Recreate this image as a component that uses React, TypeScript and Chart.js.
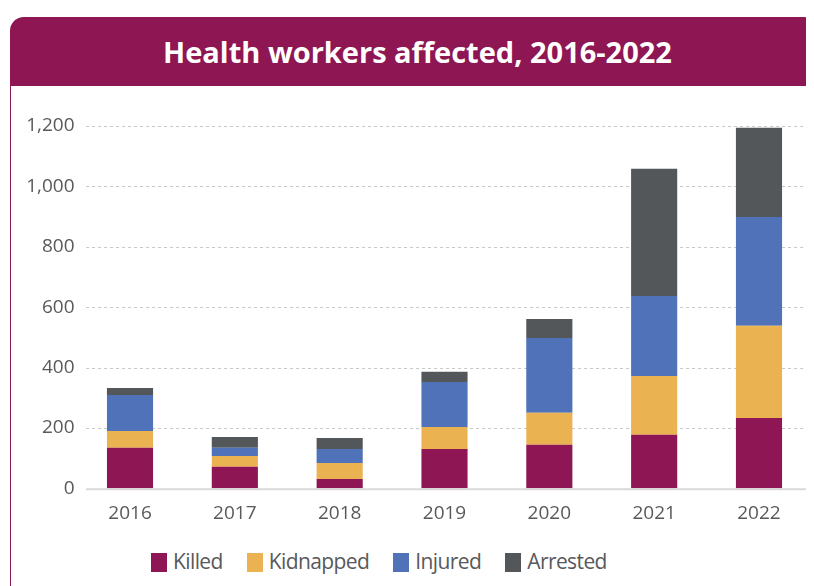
import React, { useEffect, useRef } from "react";
import { Chart, registerables } from "chart.js";

Chart.register(...registerables);

const titleText = "Health workers affected, 2016-2022";
const years = ["2016", "2017", "2018", "2019", "2020", "2021", "2022"];
const killed = [134, 71, 31, 130, 144, 177, 233];
const kidnapped = [56, 36, 53, 73, 106, 195, 305];
const injured = [119, 27, 46, 149, 248, 265, 361];
const arrested = [23, 36, 37, 34, 63, 421, 295];
const seriesNames = ["Killed", "Kidnapped", "Injured", "Arrested"];
const seriesColors = ["#8E1654", "#EAB251", "#4F72B8", "#53575A"];
const yMin = 0;
const yMax = 1200;
const yStep = 200;

const HEADER = "#8D1653";
const TEXT = "#58595B";
const FONT = "'Open Sans', sans-serif";

const gridPlugin = {
  id: "dashGrid",
  beforeDatasetsDraw(chart: any) {
    const { ctx, chartArea, scales } = chart;
    const y = scales.y;
    const x0 = chartArea.left + 8.5;
    const x1 = chartArea.right - 5.5;
    ctx.save();
    y.ticks.forEach((t: any) => {
      const p = y.getPixelForValue(t.value);
      ctx.beginPath();
      if (t.value === 0) {
        ctx.setLineDash([]);
        ctx.strokeStyle = "#d9d9d9";
        ctx.lineWidth = 2;
        ctx.moveTo(x0, p + 1);
        ctx.lineTo(x1, p + 1);
      } else {
        ctx.setLineDash([3, 3]);
        ctx.strokeStyle = "#c8c8c8";
        ctx.lineWidth = 1;
        const py = Math.round(p) + 0.5;
        ctx.moveTo(x0, py);
        ctx.lineTo(x1, py);
      }
      ctx.stroke();
    });
    ctx.restore();
  },
};

function BarChart() {
  const ref = useRef<HTMLCanvasElement | null>(null);
  useEffect(() => {
    if (!ref.current) return;
    const values = [killed, kidnapped, injured, arrested];
    const chart = new Chart(ref.current, {
      type: "bar",
      data: {
        labels: years,
        datasets: values.map((v, i) => ({
          label: seriesNames[i],
          data: v,
          backgroundColor: seriesColors[i],
          borderWidth: 0,
          categoryPercentage: 1,
          barPercentage: 0.44,
        })),
      },
      options: {
        responsive: false,
        animation: false,
        devicePixelRatio: 1,
        layout: { padding: { top: 31, right: 2.6, bottom: 0, left: 0 } },
        plugins: {
          legend: { display: false },
          tooltip: { enabled: false },
          title: { display: false },
        },
        scales: {
          x: {
            stacked: true,
            grid: { display: false, drawTicks: false },
            border: { display: false },
            ticks: {
              padding: 14,
              color: TEXT,
              font: { family: FONT, size: 19 },
            },
            afterFit: (s: any) => {
              s.height = 51.7;
            },
          },
          y: {
            stacked: true,
            min: yMin,
            max: yMax,
            grid: { display: false, drawTicks: false },
            border: { display: false },
            ticks: {
              stepSize: yStep,
              padding: 3,
              color: TEXT,
              font: { family: FONT, size: 19 },
              callback: (v: any) => Number(v).toLocaleString("en-US"),
            },
            afterFit: (s: any) => {
              s.width = 66.6;
            },
          },
        },
      },
      plugins: [gridPlugin],
    } as any);
    return () => chart.destroy();
  }, []);
  return (
    <canvas
      ref={ref}
      width={803}
      height={445}
      style={{ position: "absolute", left: 3, top: 87, width: 803, height: 445 }}
    />
  );
}

export default function App() {
  return (
    <div
      style={{
        position: "relative",
        width: 806,
        height: 578,
        overflow: "hidden",
        fontFamily: FONT,
        background: "#fff",
      }}
    >
      <div
        style={{
          position: "absolute",
          left: 1.5,
          top: 9,
          width: 808,
          height: 69,
          boxSizing: "border-box",
          paddingLeft: 8,
          background: HEADER,
          borderRadius: "14px 14px 0 0",
          display: "flex",
          alignItems: "center",
          justifyContent: "center",
          color: "#fff",
          fontWeight: 700,
          fontSize: 29,
          whiteSpace: "nowrap",
        }}
      >
        {titleText}
      </div>
      <div
        style={{
          position: "absolute",
          left: 1.5,
          top: 70,
          width: 1.6,
          height: 520,
          background: HEADER,
        }}
      />
      <BarChart />
      <div
        style={{
          position: "absolute",
          left: 143,
          top: 543,
          display: "flex",
          alignItems: "flex-start",
        }}
      >
        {seriesNames.map((n, i) => (
          <div
            key={n}
            style={{
              display: "flex",
              alignItems: "flex-start",
              marginRight: i < seriesNames.length - 1 ? 24 : 0,
            }}
          >
            <div
              style={{
                width: 16,
                height: 19,
                marginTop: 2,
                marginRight: 6,
                background: seriesColors[i],
              }}
            />
            <span
              style={{
                fontSize: 21,
                lineHeight: "21px",
                letterSpacing: -0.6,
                color: TEXT,
              }}
            >
              {n}
            </span>
          </div>
        ))}
      </div>
    </div>
  );
}
